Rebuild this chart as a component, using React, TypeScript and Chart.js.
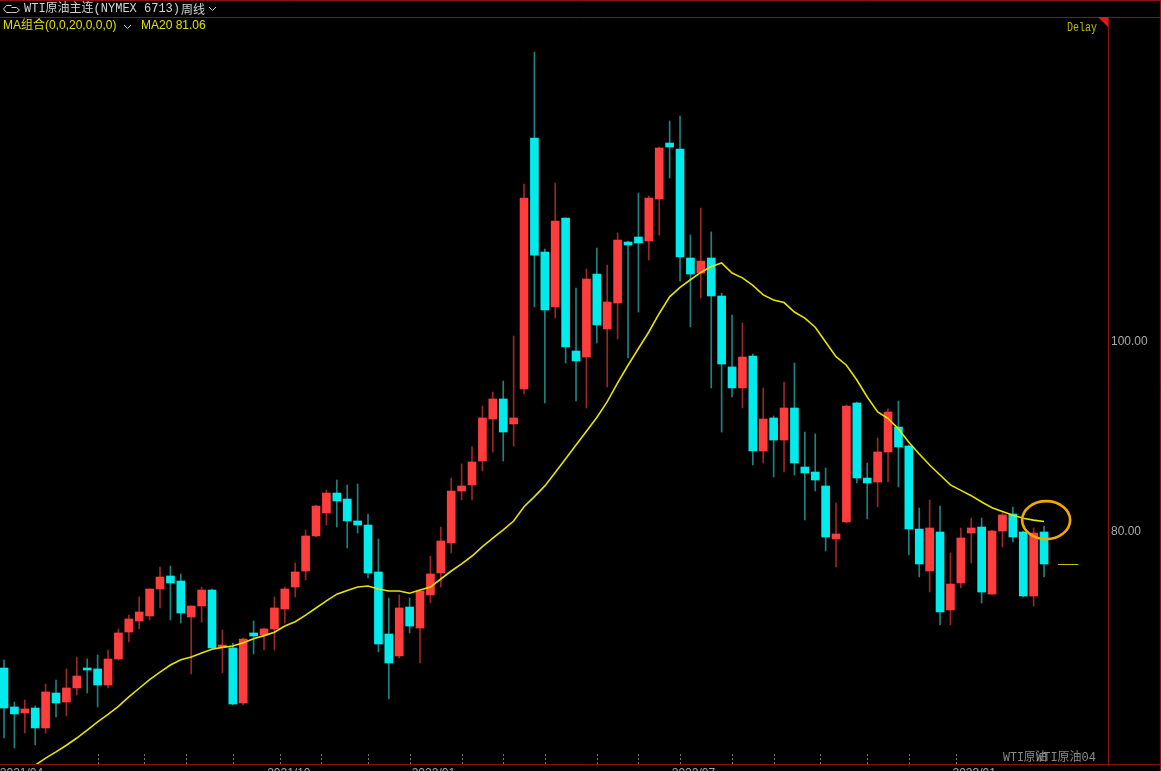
import React, { useEffect, useRef } from "react";
import { Chart, registerables } from "chart.js";

Chart.register(...registerables);

// ---- data (weekly candles, index 0..100) ----
const opens = [
  65.63, 61.53, 60.9, 61.42, 59.32, 63.0, 62.05, 63.53, 65.63, 65.53,
  63.84, 66.58, 69.42, 70.58, 71.11, 73.95, 75.32, 74.79, 71.0, 72.16,
  73.84, 67.84, 67.74, 61.95, 69.32, 69.11, 69.74, 71.84, 74.16, 75.84,
  79.53, 81.95, 84.05, 83.42, 81.11, 80.68, 75.74, 69.21, 66.9, 72.05,
  69.84, 73.32, 75.63, 78.79, 84.26, 84.9, 87.42, 91.84, 93.95, 91.32,
  95.0, 121.42, 109.42, 103.63, 113.0, 99.0, 98.37, 107.1, 101.32, 104.05,
  110.47, 111.0, 110.58, 115.0, 120.89, 120.26, 108.79, 107.21, 108.79, 104.79,
  97.32, 95.11, 98.47, 88.47, 91.95, 89.63, 93.0, 86.79, 86.26, 84.79,
  79.21, 81.0, 93.53, 85.63, 85.21, 88.37, 91.0, 89.0, 80.26, 75.84,
  79.95, 71.74, 74.58, 79.84, 80.47, 73.42, 80.05, 81.84, 79.95, 73.21,
  79.95,
];
const highs = [
  66.47, 62.05, 62.26, 61.63, 63.95, 64.37, 65.53, 66.79, 66.58, 67.0,
  67.53, 69.74, 71.21, 73.11, 73.95, 76.26, 76.37, 75.53, 72.16, 74.16,
  73.95, 69.63, 68.26, 68.79, 70.58, 69.84, 73.11, 74.16, 76.68, 80.16,
  82.79, 84.37, 85.42, 84.9, 85.0, 81.84, 79.21, 73.0, 73.32, 73.0,
  73.74, 77.42, 80.47, 85.63, 87.11, 88.9, 93.21, 94.68, 95.84, 100.58,
  116.58, 130.47, 109.74, 116.68, 113.0, 105.63, 107.63, 109.84, 108.05, 111.42,
  110.58, 115.63, 115.32, 120.47, 123.21, 123.74, 111.21, 114.05, 111.53, 105.1,
  102.79, 101.95, 98.68, 95.11, 92.16, 95.74, 97.74, 90.47, 90.26, 86.68,
  83.0, 93.32, 93.63, 87.21, 89.84, 92.9, 93.74, 89.1, 82.47, 83.32,
  82.68, 77.74, 80.37, 81.42, 81.42, 80.16, 81.95, 82.58, 80.05, 80.37,
  80.58,
];
const lows = [
  58.26, 57.21, 58.79, 57.53, 58.79, 60.47, 60.58, 62.79, 63.0, 61.53,
  63.53, 66.47, 68.37, 69.74, 70.69, 71.95, 70.69, 70.37, 65.0, 70.47,
  67.63, 65.11, 61.74, 61.74, 67.11, 67.53, 67.53, 70.37, 73.11, 74.9,
  79.42, 80.68, 80.47, 78.26, 79.84, 75.11, 67.32, 62.37, 66.69, 69.32,
  66.16, 72.47, 74.16, 77.74, 83.32, 83.32, 86.37, 88.37, 87.42, 89.0,
  94.47, 103.63, 93.53, 102.47, 97.74, 93.74, 93.0, 99.84, 95.21, 100.26,
  98.26, 103.1, 108.58, 111.21, 117.21, 106.37, 101.53, 104.58, 95.11, 90.47,
  94.16, 93.0, 87.0, 87.21, 85.74, 86.26, 85.95, 81.21, 84.26, 77.95,
  76.26, 80.89, 85.11, 81.32, 82.58, 85.21, 84.68, 77.53, 75.21, 73.63,
  70.16, 70.16, 74.05, 76.68, 72.47, 73.32, 78.37, 78.9, 73.11, 72.16,
  75.21,
];
const closes = [
  61.42, 60.79, 61.32, 59.32, 63.11, 61.95, 63.53, 64.79, 65.42, 63.84,
  66.58, 69.32, 70.79, 71.53, 73.95, 75.21, 74.58, 71.42, 72.16, 73.84,
  67.74, 68.05, 61.84, 68.68, 69.0, 69.74, 71.95, 73.95, 75.74, 79.53,
  82.68, 84.05, 83.21, 81.11, 80.68, 75.63, 68.16, 66.16, 71.95, 70.05,
  73.74, 75.53, 79.0, 84.26, 84.79, 87.32, 91.95, 93.95, 90.47, 91.95,
  115.1, 109.1, 103.32, 112.68, 99.42, 97.95, 106.58, 101.74, 104.16, 110.68,
  110.16, 110.37, 115.1, 120.37, 120.47, 108.89, 107.1, 108.47, 104.79, 97.63,
  95.11, 98.37, 88.47, 91.84, 89.63, 93.0, 87.21, 86.16, 85.42, 79.42,
  79.74, 93.21, 85.63, 85.11, 88.37, 92.58, 88.9, 80.26, 76.58, 80.37,
  71.53, 74.47, 79.32, 80.37, 73.63, 80.05, 81.74, 79.42, 73.21, 79.84,
  76.58,
];
const ma20 = [
  53.42, 54.1, 54.8, 55.4, 56.15, 56.8, 57.5, 58.26, 59.1, 59.95,
  60.74, 61.6, 62.6, 63.5, 64.4, 65.2, 65.95, 66.5, 66.8, 67.2,
  67.6, 67.8, 67.95, 68.3, 68.7, 69.04, 69.4, 70.05, 70.5, 71.2,
  71.95, 72.7, 73.4, 73.8, 74.15, 74.26, 73.95, 73.74, 73.74, 73.5,
  73.84, 74.15, 75.0, 75.84, 76.6, 77.42, 78.4, 79.3, 80.16, 81.1,
  82.6, 83.67, 84.8, 86.2, 87.66, 89.1, 90.55, 92.0, 93.67, 95.65,
  97.5, 99.26, 101.0, 102.95, 104.7, 105.7, 106.5, 107.27, 107.9, 108.26,
  107.2, 106.7, 105.9, 104.9, 104.37, 104.1, 103.1, 102.47, 101.5, 99.95,
  98.4, 97.5, 95.95, 94.16, 92.58, 91.9, 90.8, 89.4, 88.16, 87.0,
  85.95, 84.9, 84.33, 83.77, 83.1, 82.5, 82.1, 81.7, 81.4, 81.2,
  81.06,
];
const yTickValues = [100, 80];
const xTickIdx = [9, 13.5, 17.5, 22, 26.5, 30.5, 35, 39, 44, 48, 52, 57, 61, 65, 70, 74, 78.5, 83, 87, 91.5];
const xLabelIdx = [-0.4, 25.3, 39.2, 64.2, 91.2];
const xLabelText = ["2021/04", "2021/10", "2022/01", "2022/07", "2023/01"];

const W = 1161;
const H = 771;
const UP_BODY = "#ff3d3d";
const DOWN_BODY = "#00ecec";
const UP_WICK = "#9a2626";
const DOWN_WICK = "#1f8080";
const FRAME = "#8c1212";

const decoPlugin = {
  id: "deco",
  beforeDraw(chart: any) {
    const ctx = chart.ctx;
    ctx.save();
    ctx.fillStyle = "#000";
    ctx.fillRect(0, 0, chart.width, chart.height);
    ctx.restore();
  },
  afterDraw(chart: any) {
    const ctx: CanvasRenderingContext2D = chart.ctx;
    const ca = chart.chartArea;
    const xs = chart.scales.x;
    const ys = chart.scales.y;
    ctx.save();

    // frame lines
    ctx.strokeStyle = FRAME;
    ctx.lineWidth = 1;
    const ln = (x1: number, y1: number, x2: number, y2: number) => {
      ctx.beginPath();
      ctx.moveTo(x1, y1);
      ctx.lineTo(x2, y2);
      ctx.stroke();
    };
    ln(0, 0.5, W, 0.5);
    ln(0, ca.top + 0.5, W, ca.top + 0.5);
    ln(ca.right + 0.5, ca.top, ca.right + 0.5, ca.bottom);
    ln(0, ca.bottom + 0.5, W, ca.bottom + 0.5);
    ln(W - 0.5, 0, W - 0.5, H);

    // red corner triangle
    ctx.fillStyle = "#e01818";
    ctx.beginPath();
    ctx.moveTo(ca.right - 10, ca.top);
    ctx.lineTo(ca.right, ca.top);
    ctx.lineTo(ca.right, ca.top + 10);
    ctx.closePath();
    ctx.fill();

    // header icon
    ctx.strokeStyle = "#cfcfcf";
    ctx.lineWidth = 1;
    ctx.beginPath();
    ctx.moveTo(11.5, 5.5);
    ctx.lineTo(6.5, 5.5);
    ctx.lineTo(3.5, 9);
    ctx.lineTo(6.5, 12.5);
    ctx.lineTo(11.5, 12.5);
    ctx.stroke();
    ctx.beginPath();
    ctx.moveTo(11.5, 7.5);
    ctx.lineTo(16.5, 7.5);
    ctx.lineTo(19.5, 10);
    ctx.lineTo(16.5, 12.5);
    ctx.lineTo(11.5, 12.5);
    ctx.stroke();

    // header text
    ctx.fillStyle = "#d2d2d2";
    ctx.textBaseline = "middle";
    ctx.textAlign = "left";
    ctx.font = '12px "Liberation Mono", "Noto Sans CJK SC", monospace';
    ctx.fillText("WTI原油主连(NYMEX 6713)", 24, 9, 156);
    ctx.font = '12px "Noto Sans CJK SC", sans-serif';
    ctx.fillText("周线", 181, 9, 25);
    ctx.strokeStyle = "#d2d2d2";
    ctx.beginPath();
    ctx.moveTo(209, 7);
    ctx.lineTo(212.5, 10.5);
    ctx.lineTo(216, 7);
    ctx.stroke();

    // indicator line
    ctx.fillStyle = "#e0e000";
    ctx.font = '12px "Liberation Sans", "Noto Sans CJK SC", sans-serif';
    ctx.fillText("MA组合(0,0,20,0,0,0)", 3, 26);
    ctx.strokeStyle = "#e0e000";
    ctx.beginPath();
    ctx.moveTo(124, 25);
    ctx.lineTo(127.5, 28.5);
    ctx.lineTo(131, 25);
    ctx.stroke();
    ctx.fillText("MA20 " + ma20[ma20.length - 1].toFixed(2), 141, 26);

    // Delay
    ctx.fillStyle = "#b8b800";
    ctx.font = '12px "Liberation Mono", monospace';
    ctx.fillText("Delay", 1067, 28, 30);

    // y labels
    ctx.fillStyle = "#a8a8a8";
    ctx.font = '12px "Liberation Sans", sans-serif';
    yTickValues.forEach((v) => {
      ctx.fillText(v.toFixed(2), ca.right + 3, ys.getPixelForValue(v));
    });

    // x ticks
    ctx.strokeStyle = "#707070";
    ctx.setLineDash([2, 2]);
    xTickIdx.forEach((i) => {
      const px = Math.round(xs.getPixelForValue(i)) + 0.5;
      ctx.beginPath();
      ctx.moveTo(px, ca.bottom - 10);
      ctx.lineTo(px, ca.bottom);
      ctx.stroke();
    });
    ctx.setLineDash([]);
    ctx.fillStyle = "#a8a8a8";
    ctx.textBaseline = "top";
    xLabelIdx.forEach((i, k) => {
      ctx.fillText(xLabelText[k], xs.getPixelForValue(i), ca.bottom + 4);
    });

    // watermark bottom right
    ctx.fillStyle = "#8a8a8a";
    ctx.textBaseline = "middle";
    ctx.font = '12px "Liberation Mono", "Noto Sans CJK SC", monospace';
    ctx.fillText("WTI原油", 1003, 758, 44);
    ctx.fillText("WTI原油04", 1036, 758, 64);

    // last price marker
    const lastY = Math.round(ys.getPixelForValue(closes[closes.length - 1])) + 0.5;
    ctx.strokeStyle = "#c8c000";
    ctx.beginPath();
    ctx.moveTo(xs.getPixelForValue(101.35), lastY);
    ctx.lineTo(xs.getPixelForValue(103.3), lastY);
    ctx.stroke();

    // highlight ellipse around MA end
    ctx.strokeStyle = "#f2a900";
    ctx.lineWidth = 2.6;
    ctx.beginPath();
    ctx.ellipse(xs.getPixelForValue(100.2), ys.getPixelForValue(81.2), 24, 19, 0, 0, Math.PI * 2);
    ctx.stroke();

    ctx.restore();
  },
};

export default function App() {
  const ref = useRef<HTMLCanvasElement>(null);
  useEffect(() => {
    document.body.style.margin = "0";
    document.body.style.background = "#000";
    const canvas = ref.current!;
    const idx = closes.map((_, i) => i);
    const isUp = idx.map((i) => closes[i] >= opens[i]);
    const chart = new Chart(canvas, {
      type: "bar",
      data: {
        datasets: [
          {
            type: "line",
            label: "MA20",
            data: idx.map((i) => ({ x: i, y: ma20[i] })),
            borderColor: "#e4e400",
            borderWidth: 1.6,
            pointRadius: 0,
            tension: 0,
            order: 0,
          } as any,
          {
            label: "body",
            data: idx.map((i) => ({ x: i, y: [opens[i], closes[i]] })),
            backgroundColor: isUp.map((u) => (u ? UP_BODY : DOWN_BODY)),
            borderWidth: 0,
            barThickness: 8,
            minBarLength: 1,
            grouped: false,
            order: 1,
          } as any,
          {
            label: "wick",
            data: idx.map((i) => ({ x: i, y: [lows[i], highs[i]] })),
            backgroundColor: isUp.map((u) => (u ? UP_WICK : DOWN_WICK)),
            borderWidth: 0,
            barThickness: 1,
            grouped: false,
            order: 2,
          } as any,
        ],
      },
      options: {
        animation: false,
        responsive: false,
        maintainAspectRatio: false,
        layout: { padding: { left: 0, right: W - 1108, top: 17, bottom: H - 764 } },
        plugins: { legend: { display: false }, tooltip: { enabled: false } },
        scales: {
          x: { type: "linear", display: false, offset: false, min: -0.385, max: 106.15 },
          y: { type: "linear", display: false, beginAtZero: false, min: 55.526, max: 134.158 },
        },
      } as any,
      plugins: [decoPlugin],
    });
    return () => chart.destroy();
  }, []);
  return (
    <div style={{ width: W, height: H, background: "#000", overflow: "hidden" }}>
      <canvas ref={ref} width={W} height={H} style={{ display: "block" }} />
    </div>
  );
}
